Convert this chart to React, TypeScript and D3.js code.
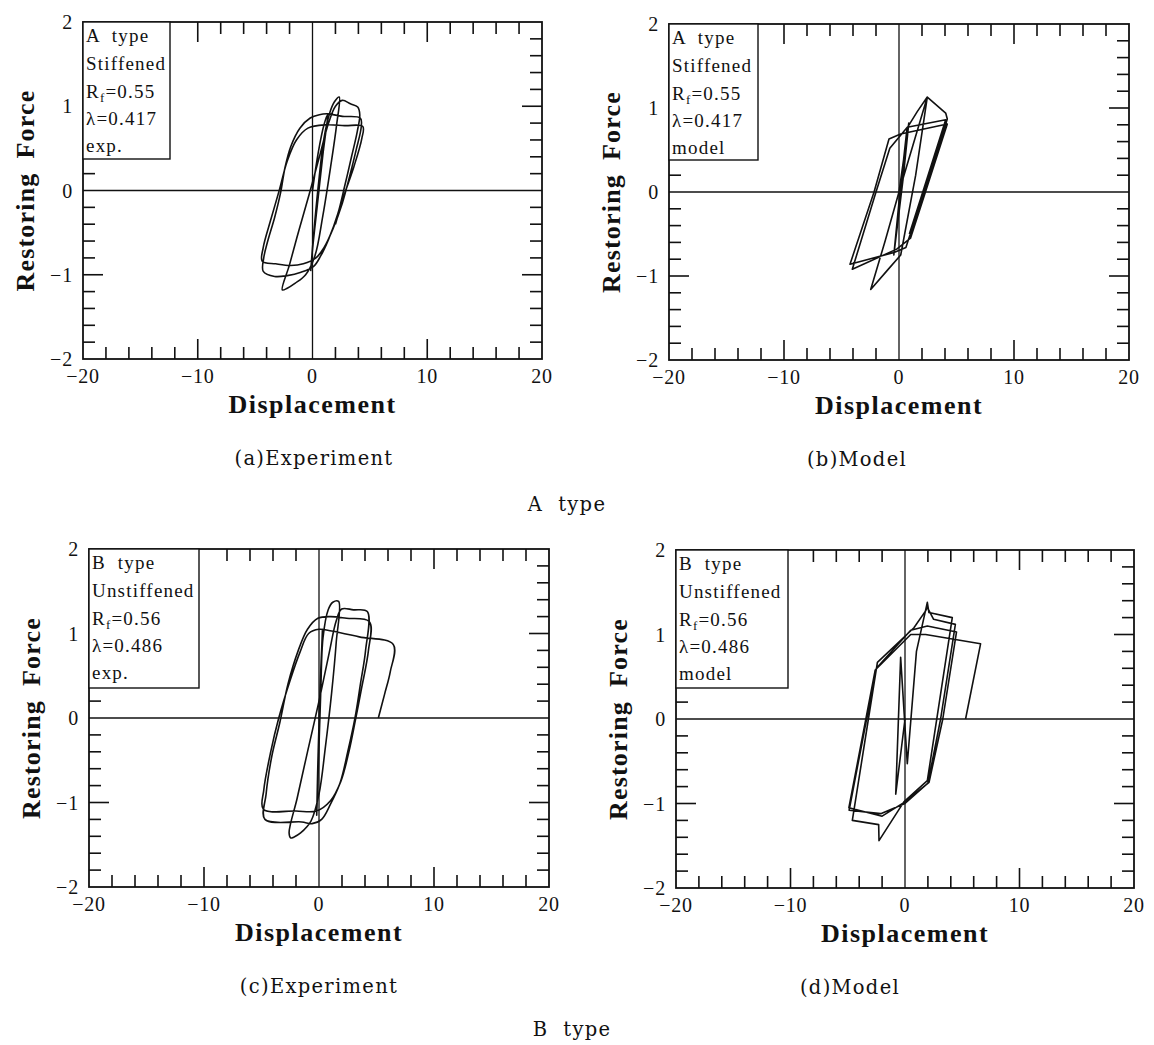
import React, { useEffect, useRef } from 'react';
import * as d3 from 'd3';

type Pt = [number, number];

// axis values
const xTickValues = [-20, -10, 0, 10, 20];
const yTickValues = [-2, -1, 0, 1, 2];
const xMinorValues = [-18, -16, -14, -12, -10, -8, -6, -4, -2, 2, 4, 6, 8, 10, 12, 14, 16, 18];
const yMinorValues = [-1.8, -1.6, -1.4, -1.2, -1, -0.8, -0.6, -0.4, -0.2, 0.2, 0.4, 0.6, 0.8, 1, 1.2, 1.4, 1.6, 1.8];

// (a) A type, experiment : displacement / restoring force history
const aExp: Pt[] = [
  [0, 0], [0.5, 0.45], [1.0, 0.78], [1.31, 0.9], [0.9, 0.42], [0.4, -0.2], [0.0, -0.7], [-0.15, -0.95],
  [0.05, -0.6], [0.5, 0.05], [1.0, 0.62], [1.5, 0.92], [1.9, 1.05], [2.33, 1.11],
  [2.1, 0.78], [1.6, 0.3], [0.9, -0.3], [0.2, -0.78], [-0.6, -1.0], [-1.5, -1.1], [-2.2, -1.16], [-2.63, -1.18],
  [-2.0, -0.88], [-1.2, -0.48], [-0.3, -0.05], [0.6, 0.4], [1.4, 0.8], [2.0, 1.0], [2.6, 1.07], [3.3, 1.03], [3.94, 0.99],
  [4.12, 0.9], [3.9, 0.7], [3.4, 0.4], [2.8, 0.05], [2.2, -0.28], [1.4, -0.58], [0.7, -0.78], [0.1, -0.9],
  [-1.0, -0.97], [-2.2, -1.01], [-3.3, -1.02], [-4.29, -0.96],
  [-4.25, -0.8], [-3.9, -0.6], [-3.3, -0.32], [-2.77, -0.02], [-2.4, 0.27], [-1.9, 0.52], [-1.1, 0.74], [-0.2, 0.86],
  [0.6, 0.9], [1.3, 0.91], [2.6, 0.88], [4.17, 0.86],
  [4.25, 0.76], [3.8, 0.48], [3.2, 0.15], [2.6, -0.15], [1.8, -0.45], [1.0, -0.68], [0.3, -0.8], [-0.8, -0.87],
  [-1.9, -0.89], [-3.2, -0.87], [-4.38, -0.84],
  [-4.3, -0.68], [-3.6, -0.33], [-2.9, 0.0], [-2.2, 0.35], [-1.4, 0.6], [-0.4, 0.74], [1.17, 0.78], [2.8, 0.77], [4.38, 0.76],
  [4.3, 0.62], [3.6, 0.28], [2.77, -0.05], [2.0, -0.4],
];

// (b) A type, model
const bModel: Pt[] = [
  [0, 0], [0.85, 0.82], [0.35, 0.15], [-0.45, -0.75], [0.05, -0.05], [0.7, 0.76], [1.6, 0.96], [2.46, 1.13],
  [1.45, 0.2], [0.15, -0.75], [-1.0, -0.93], [-2.46, -1.16],
  [-1.2, -0.58], [0.0, 0.0], [1.2, 0.55], [2.46, 1.13],
  [4.06, 0.94], [4.2, 0.87],
  [2.17, 0.0], [0.6, -0.66], [-0.43, -0.72], [-4.26, -0.86],
  [-2.17, 0.0], [-0.87, 0.63], [0.14, 0.69], [4.2, 0.81],
  [2.3, 0.0], [1.0, -0.55], [-0.2, -0.68], [-4.06, -0.92],
  [-2.0, 0.0], [-0.8, 0.52], [0.72, 0.77], [4.06, 0.86],
  [1.95, -0.05], [0.9, -0.5],
];

// (c) B type, experiment
const cExp: Pt[] = [
  [0, 0], [0.15, 0.55], [0.3, 1.05], [0.15, 0.5], [-0.05, -0.3], [-0.2, -1.15], [-0.05, -0.55], [0.15, 0.3],
  [0.35, 0.95], [0.8, 1.28], [1.2, 1.37], [1.7, 1.38],
  [1.5, 0.9], [1.1, 0.3], [0.55, -0.35], [0.0, -0.9], [-0.7, -1.22], [-1.6, -1.36], [-2.2, -1.41], [-2.45, -1.42], [-2.6, -1.36],
  [-1.9, -0.95], [-1.0, -0.4], [0.0, 0.2], [0.9, 0.78], [1.5, 1.15], [1.97, 1.29], [3.0, 1.28], [4.2, 1.26],
  [4.05, 0.8], [3.6, 0.4], [3.13, 0.0], [2.5, -0.4], [1.83, -0.77], [1.0, -1.02], [0.23, -1.2], [-0.6, -1.25],
  [-1.5, -1.23], [-4.7, -1.2],
  [-4.6, -0.9], [-4.1, -0.45], [-3.4, -0.05], [-2.7, 0.4], [-1.8, 0.8], [-1.0, 1.05], [-0.1, 1.18], [1.0, 1.2],
  [2.4, 1.18], [4.38, 1.14],
  [4.3, 0.8], [3.7, 0.35], [3.2, 0.0], [2.6, -0.4], [1.9, -0.75], [1.0, -0.98], [-0.2, -1.1], [-2.0, -1.1], [-4.84, -1.08],
  [-4.8, -0.85], [-4.2, -0.4], [-3.5, 0.0], [-2.5, 0.45], [-1.65, 0.78], [-0.9, 1.0], [0.0, 1.05], [1.1, 1.03],
  [3.5, 0.96], [6.46, 0.87],
  [6.2, 0.55], [5.7, 0.28], [5.16, 0.0],
];

// (d) B type, model
const dModel: Pt[] = [
  [0, 0], [-0.81, -0.89], [-0.38, 0.73], [0.2, -0.53], [1.0, 0.8], [1.95, 1.38],
  [2.09, 1.26], [4.13, 1.2],
  [3.0, 0.2], [1.95, -0.73], [-0.1, -0.98], [-2.27, -1.44],
  [-2.3, -1.25], [-4.6, -1.2],
  [-2.41, 0.67], [0.78, 1.08], [1.8, 1.28], [1.95, 1.32], [2.5, 1.18], [4.4, 1.12],
  [3.11, 0.0], [2.0, -0.76], [0.0, -1.0], [-2.12, -1.12], [-4.88, -1.08],
  [-2.5, 0.6], [0.5, 1.05], [1.95, 1.1], [4.5, 1.03],
  [3.3, 0.0], [2.1, -0.75], [0.0, -0.98], [-2.0, -1.15], [-4.9, -1.05],
  [-2.6, 0.58], [0.5, 1.0], [1.8, 1.0], [6.6, 0.89], [5.29, 0.0],
];

const legendType = ['A  type', 'A  type', 'B  type', 'B  type'];
const legendStiff = ['Stiffened', 'Stiffened', 'Unstiffened', 'Unstiffened'];
const legendRf = ['0.55', '0.55', '0.56', '0.56'];
const legendLambda = ['0.417', '0.417', '0.486', '0.486'];
const legendTag = ['exp.', 'model', 'exp.', 'model'];
const captions = ['(a)Experiment', '(b)Model', '(c)Experiment', '(d)Model'];
const groupTitles = ['A  type', 'B  type'];

const panels = [
  { L: 83, R: 542, T: 22, B: 359, boxW: 87, boxH: 137, capX: 314, data: aExp, curved: true },
  { L: 669, R: 1129, T: 24, B: 360, boxW: 89, boxH: 136, capX: 857, data: bModel, curved: false },
  { L: 89, R: 549, T: 549, B: 887, boxW: 110, boxH: 139, capX: 319, data: cExp, curved: true },
  { L: 676, R: 1134, T: 550, B: 888, boxW: 112, boxH: 138, capX: 850, data: dModel, curved: false },
];

const SERIF = "'Liberation Serif', 'Times New Roman', serif";
const CAPTION = "'DejaVu Serif', serif";

const App: React.FC = () => {
  const svgRef = useRef<SVGSVGElement>(null);

  useEffect(() => {
    document.body.style.margin = '0';
    if (!svgRef.current) return;
    const svg = d3.select(svgRef.current);
    svg.selectAll('*').remove();

    panels.forEach((p, i) => {
      const x = d3.scaleLinear().domain([-20, 20]).range([p.L, p.R]);
      const y = d3.scaleLinear().domain([-2, 2]).range([p.B, p.T]);
      const g = svg.append('g');

      // zero lines
      g.append('line')
        .attr('x1', x(0)).attr('x2', x(0)).attr('y1', p.T).attr('y2', p.B)
        .attr('stroke', '#111').attr('stroke-width', 1.3);
      g.append('line')
        .attr('x1', p.L).attr('x2', p.R).attr('y1', y(0)).attr('y2', y(0))
        .attr('stroke', '#111').attr('stroke-width', 1.3);

      // inward ticks on all four sides (the legend box hides the top-left ones)
      const ticks = g.append('g').attr('stroke', '#111').attr('stroke-width', 1.6);
      xMinorValues.forEach(v => {
        const len = Math.abs(v) === 10 ? 20 : 12;
        ticks.append('line').attr('x1', x(v)).attr('x2', x(v)).attr('y1', p.B).attr('y2', p.B - len);
        if (x(v) > p.L + p.boxW + 8) {
          ticks.append('line').attr('x1', x(v)).attr('x2', x(v)).attr('y1', p.T).attr('y2', p.T + len);
        }
      });
      yMinorValues.forEach(v => {
        const len = Math.abs(v) === 1 ? 20 : 12;
        if (y(v) > p.T + p.boxH + 4) {
          ticks.append('line').attr('x1', p.L).attr('x2', p.L + len).attr('y1', y(v)).attr('y2', y(v));
        }
        ticks.append('line').attr('x1', p.R).attr('x2', p.R - len).attr('y1', y(v)).attr('y2', y(v));
      });

      // hysteresis loops
      const line = d3.line<Pt>()
        .x(d => x(d[0]))
        .y(d => y(d[1]))
        .curve(p.curved ? d3.curveCatmullRom.alpha(0.5) : d3.curveLinear);
      g.append('path')
        .datum(p.data)
        .attr('d', line)
        .attr('fill', 'none')
        .attr('stroke', '#111')
        .attr('stroke-width', 1.6)
        .attr('stroke-linejoin', 'round');

      // frame
      g.append('rect')
        .attr('x', p.L).attr('y', p.T).attr('width', p.R - p.L).attr('height', p.B - p.T)
        .attr('fill', 'none').attr('stroke', '#111').attr('stroke-width', 1.8);

      // legend box
      g.append('rect')
        .attr('x', p.L).attr('y', p.T).attr('width', p.boxW).attr('height', p.boxH)
        .attr('fill', '#fff').attr('stroke', '#111').attr('stroke-width', 1.4);
      const lg = g.append('g')
        .attr('font-family', SERIF).attr('font-size', 19).attr('letter-spacing', 1.2).attr('fill', '#111');
      const lx = p.L + 3;
      const rows = [20, 48, 76, 103, 130];
      lg.append('text').attr('x', lx).attr('y', p.T + rows[0]).style('white-space', 'pre').text(legendType[i]);
      lg.append('text').attr('x', lx).attr('y', p.T + rows[1]).text(legendStiff[i]);
      const rf = lg.append('text').attr('x', lx).attr('y', p.T + rows[2]);
      rf.append('tspan').text('R');
      rf.append('tspan').attr('font-size', 13).attr('dy', 4).text('f');
      rf.append('tspan').attr('dy', -4).text('=' + legendRf[i]);
      lg.append('text').attr('x', lx).attr('y', p.T + rows[3]).text('\u03bb=' + legendLambda[i]);
      lg.append('text').attr('x', lx).attr('y', p.T + rows[4]).text(legendTag[i]);

      // tick labels
      const tl = g.append('g').attr('font-family', SERIF).attr('font-size', 20).attr('fill', '#111');
      xTickValues.forEach(v => {
        tl.append('text')
          .attr('x', x(v)).attr('y', p.B + 24)
          .attr('text-anchor', 'middle').attr('letter-spacing', 0.8)
          .text(v < 0 ? '\u2212' + Math.abs(v) : String(v));
      });
      yTickValues.forEach(v => {
        tl.append('text')
          .attr('x', p.L - 10).attr('y', y(v)).attr('dy', '0.35em')
          .attr('text-anchor', 'end').attr('letter-spacing', 0.8)
          .text(v < 0 ? '\u2212' + Math.abs(v) : String(v));
      });

      // axis titles
      g.append('text')
        .attr('x', (p.L + p.R) / 2).attr('y', p.B + 54)
        .attr('text-anchor', 'middle')
        .attr('font-family', SERIF).attr('font-size', 26).attr('font-weight', 'bold')
        .attr('letter-spacing', 1.5).attr('fill', '#111')
        .text('Displacement');
      const yt = g.append('text')
        .attr('transform', `translate(${p.L - 49},${(p.T + p.B) / 2}) rotate(-90)`)
        .attr('text-anchor', 'middle')
        .attr('font-family', SERIF).attr('font-size', 26).attr('font-weight', 'bold')
        .attr('letter-spacing', 1.2).attr('fill', '#111');
      yt.append('tspan').text('Restoring');
      yt.append('tspan').attr('dx', 14).text('Force');

      // caption
      g.append('text')
        .attr('x', p.capX).attr('y', p.B + 106)
        .attr('text-anchor', 'middle')
        .attr('font-family', CAPTION).attr('font-size', 19.5).attr('letter-spacing', 1.3).attr('fill', '#111')
        .text(captions[i]);
    });

    // group titles
    [[567, 511], [572, 1036]].forEach(([gx, gy], k) => {
      svg.append('text')
        .attr('x', gx).attr('y', gy)
        .attr('text-anchor', 'middle')
        .attr('font-family', CAPTION).attr('font-size', 19.5).attr('letter-spacing', 1.3).attr('fill', '#111')
        .style('white-space', 'pre')
        .text(groupTitles[k]);
    });
  }, []);

  return (
    <svg ref={svgRef} width={1154} height={1045} style={{ display: 'block', background: '#fff' }}></svg>
  );
};

export default App;
